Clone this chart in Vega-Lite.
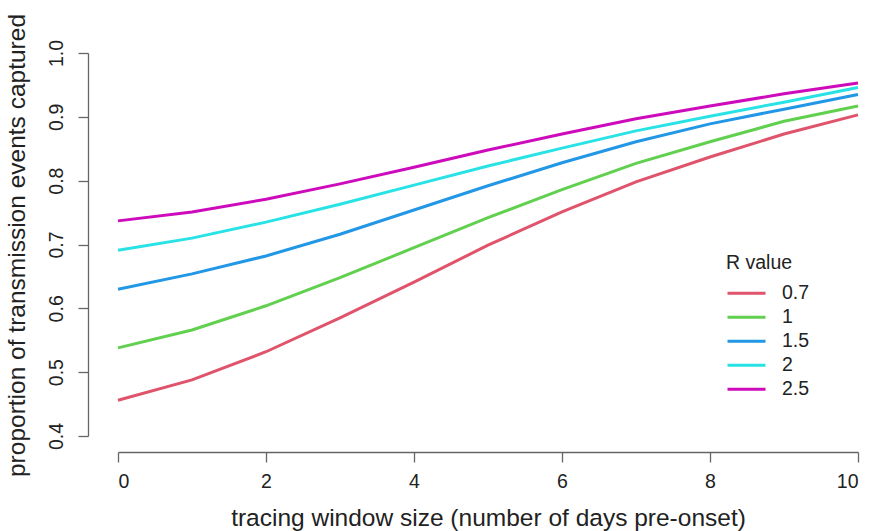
{
  "$schema": "https://vega.github.io/schema/vega-lite/v6.json",
  "width": 740,
  "height": 383,
  "autosize": "none",
  "padding": {"left": 118, "top": 53, "right": 11, "bottom": 95},
  "background": "white",
  "config": {"view": {"stroke": null}, "font": "Liberation Sans"},
  "data": {"values": [
    {"R": "0.7", "days": 0, "p": 0.456}, {"R": "0.7", "days": 1, "p": 0.488}, {"R": "0.7", "days": 2, "p": 0.532}, {"R": "0.7", "days": 3, "p": 0.585}, {"R": "0.7", "days": 4, "p": 0.641}, {"R": "0.7", "days": 5, "p": 0.699}, {"R": "0.7", "days": 6, "p": 0.751}, {"R": "0.7", "days": 7, "p": 0.798}, {"R": "0.7", "days": 8, "p": 0.837}, {"R": "0.7", "days": 9, "p": 0.873}, {"R": "0.7", "days": 10, "p": 0.903},
    {"R": "1", "days": 0, "p": 0.538}, {"R": "1", "days": 1, "p": 0.566}, {"R": "1", "days": 2, "p": 0.604}, {"R": "1", "days": 3, "p": 0.648}, {"R": "1", "days": 4, "p": 0.695}, {"R": "1", "days": 5, "p": 0.742}, {"R": "1", "days": 6, "p": 0.786}, {"R": "1", "days": 7, "p": 0.827}, {"R": "1", "days": 8, "p": 0.861}, {"R": "1", "days": 9, "p": 0.893}, {"R": "1", "days": 10, "p": 0.917},
    {"R": "1.5", "days": 0, "p": 0.630}, {"R": "1.5", "days": 1, "p": 0.654}, {"R": "1.5", "days": 2, "p": 0.682}, {"R": "1.5", "days": 3, "p": 0.716}, {"R": "1.5", "days": 4, "p": 0.754}, {"R": "1.5", "days": 5, "p": 0.792}, {"R": "1.5", "days": 6, "p": 0.828}, {"R": "1.5", "days": 7, "p": 0.861}, {"R": "1.5", "days": 8, "p": 0.889}, {"R": "1.5", "days": 9, "p": 0.912}, {"R": "1.5", "days": 10, "p": 0.935},
    {"R": "2", "days": 0, "p": 0.691}, {"R": "2", "days": 1, "p": 0.710}, {"R": "2", "days": 2, "p": 0.735}, {"R": "2", "days": 3, "p": 0.763}, {"R": "2", "days": 4, "p": 0.793}, {"R": "2", "days": 5, "p": 0.823}, {"R": "2", "days": 6, "p": 0.851}, {"R": "2", "days": 7, "p": 0.878}, {"R": "2", "days": 8, "p": 0.901}, {"R": "2", "days": 9, "p": 0.923}, {"R": "2", "days": 10, "p": 0.946},
    {"R": "2.5", "days": 0, "p": 0.737}, {"R": "2.5", "days": 1, "p": 0.751}, {"R": "2.5", "days": 2, "p": 0.771}, {"R": "2.5", "days": 3, "p": 0.795}, {"R": "2.5", "days": 4, "p": 0.821}, {"R": "2.5", "days": 5, "p": 0.848}, {"R": "2.5", "days": 6, "p": 0.873}, {"R": "2.5", "days": 7, "p": 0.897}, {"R": "2.5", "days": 8, "p": 0.917}, {"R": "2.5", "days": 9, "p": 0.936}, {"R": "2.5", "days": 10, "p": 0.953}
  ]},
  "mark": {"type": "line", "strokeWidth": 3},
  "encoding": {
    "x": {
      "field": "days", "type": "quantitative",
      "scale": {"domain": [0, 10], "nice": false, "zero": false},
      "axis": {
        "values": [0, 2, 4, 6, 8, 10], "grid": false, "offset": 16,
        "tickSize": 10, "tickColor": "#666", "domainColor": "#666", "tickWidth": 1.3, "domainWidth": 1.3,
        "labelFontSize": 19.5, "labelColor": "#222", "labelPadding": 10,
        "title": "tracing window size (number of days pre-onset)",
        "titleFontSize": 24.5, "titleFontWeight": "normal", "titleColor": "#222",
        "titleY": 73, "titleBaseline": "alphabetic"
      }
    },
    "y": {
      "field": "p", "type": "quantitative",
      "scale": {"domain": [0.4, 1.0], "nice": false, "zero": false},
      "axis": {
        "values": [0.4, 0.5, 0.6, 0.7, 0.8, 0.9, 1.0], "format": ".1f", "grid": false, "offset": 30,
        "tickSize": 10, "tickColor": "#666", "domainColor": "#666", "tickWidth": 1.3, "domainWidth": 1.3,
        "labelFontSize": 19.5, "labelColor": "#222", "labelAngle": -90, "labelAlign": "center", "labelBaseline": "alphabetic", "labelPadding": 16,
        "title": "proportion of transmission events captured",
        "titleFontSize": 24.5, "titleFontWeight": "normal", "titleColor": "#222",
        "titleAngle": -90, "titleX": -64, "titleY": 192, "titleBaseline": "alphabetic", "titleAlign": "center"
      }
    },
    "color": {
      "field": "R", "type": "nominal",
      "scale": {"domain": ["0.7", "1", "1.5", "2", "2.5"], "range": ["#DF536B", "#61D04F", "#2297E6", "#28E2E5", "#CD0BBC"]},
      "legend": {
        "title": "R value", "orient": "none", "legendX": 608, "legendY": 201,
        "symbolType": "stroke", "symbolSize": 1444, "symbolStrokeWidth": 3,
        "clipHeight": 23.5, "rowPadding": 0, "padding": 0,
        "labelFontSize": 19.5, "labelColor": "#222", "labelOffset": 15,
        "titleFontSize": 19.5, "titleFontWeight": "normal", "titleColor": "#222", "titlePadding": 8
      }
    }
  }
}
